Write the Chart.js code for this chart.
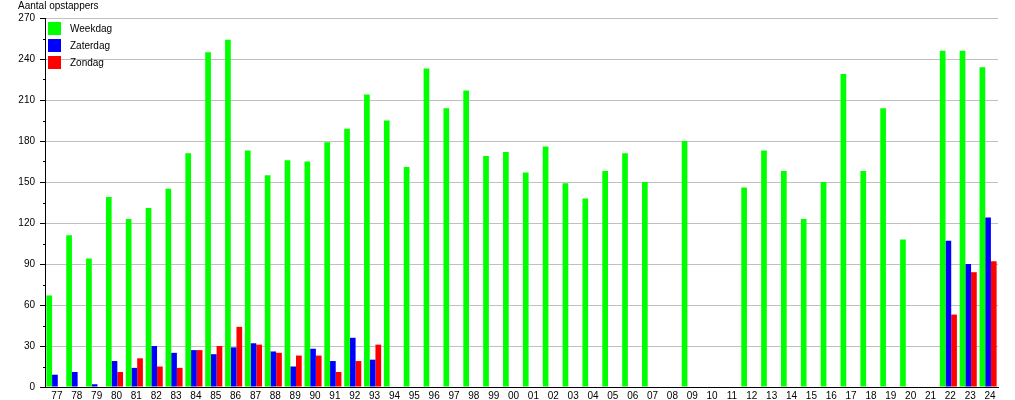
<!DOCTYPE html>
<html>
<head>
<meta charset="utf-8">
<script src="https://cdn.jsdelivr.net/npm/chart.js@4/dist/chart.umd.min.js"></script>
<style>
  html, body { margin: 0; padding: 0; background: #ffffff; }
  #wrap { position: relative; width: 1015px; height: 400px; }
</style>
</head>
<body>
<div id="wrap"><canvas id="c" width="1015" height="400"></canvas></div>
<script>
const categories = ['77','78','79','80','81','82','83','84','85','86','87','88','89','90','91','92','93','94','95','96','97','98','99',
  '00','01','02','03','04','05','06','07','08','09','10','11','12','13','14','15','16','17','18','19','20','21','22','23','24'];

const weekdag = [67,111,94,139,123,131,145,171,245,254,173,155,166,165,179,189,214,195,161,233,204,217,169,
  172,157,176,149,138,158,171,150,null,180,null,null,146,173,158,123,150,229,158,204,108,null,246,246,234];

const zaterdag = [9,11,2,19,14,30,25,27,24,29,32,26,15,28,19,36,20,null,null,null,null,null,null,
  null,null,null,null,null,null,null,null,null,null,null,null,null,null,null,null,null,null,null,null,null,null,107,90,124];

const zondag = [null,null,null,11,21,15,14,27,30,44,31,25,23,23,11,19,31,null,null,null,null,null,null,
  null,null,null,null,null,null,null,null,null,null,null,null,null,null,null,null,null,null,null,null,null,null,53,84,92];

const seriesNames = ['Weekdag','Zaterdag','Zondag'];
const seriesColors = ['#00ff00','#0000ff','#ff0000'];
const yTitle = 'Aantal opstappers';
const yMin = 0, yMax = 270, yStep = 30;

const FONT = '"Liberation Sans", Arial, Helvetica, sans-serif';

const minorTicks = {
  id: 'minorTicks',
  afterDraw(chart) {
    const y = chart.scales.y;
    const ctx = chart.ctx;
    ctx.save();
    ctx.strokeStyle = '#000000';
    ctx.lineWidth = 1;
    for (let v = yMin + yStep / 2; v < yMax; v += yStep) {
      const py = Math.round(y.getPixelForValue(v)) + 0.5;
      ctx.beginPath();
      ctx.moveTo(y.right - 2, py);
      ctx.lineTo(y.right, py);
      ctx.stroke();
    }
    ctx.restore();
  }
};

const insideLegend = {
  id: 'insideLegend',
  afterDraw(chart) {
    const ctx = chart.ctx;
    const area = chart.chartArea;
    ctx.save();
    ctx.font = '10px ' + FONT;
    ctx.textBaseline = 'middle';
    ctx.textAlign = 'left';
    chart.data.datasets.forEach((ds, i) => {
      const bx = area.left + 3;
      const by = area.top + 4 + i * 17;
      ctx.fillStyle = ds.backgroundColor;
      ctx.fillRect(bx, by, 13, 13);
      ctx.fillStyle = '#000000';
      ctx.fillText(ds.label, bx + 22, by + 7);
    });
    ctx.restore();
  }
};

new Chart(document.getElementById('c'), {
  type: 'bar',
  data: {
    labels: categories,
    datasets: [
      { label: seriesNames[0], data: weekdag, backgroundColor: seriesColors[0] },
      { label: seriesNames[1], data: zaterdag, backgroundColor: seriesColors[1] },
      { label: seriesNames[2], data: zondag, backgroundColor: seriesColors[2] }
    ]
  },
  options: {
    responsive: false,
    animation: false,
    events: [],
    layout: { padding: { left: 18, right: 17, top: 0, bottom: 0 } },
    datasets: { bar: { categoryPercentage: 0.86, barPercentage: 1.0, borderWidth: 0 } },
    plugins: {
      legend: { display: false },
      tooltip: { enabled: false },
      title: {
        display: true,
        text: yTitle,
        align: 'start',
        color: '#000000',
        font: { family: FONT, size: 10, weight: 'normal', lineHeight: 1.2 },
        padding: { top: 0, bottom: 6 }
      }
    },
    scales: {
      x: {
        offset: true,
        afterFit(scale) { scale.height = 13; },
        grid: { drawOnChartArea: false, drawTicks: false },
        border: { display: true, color: '#000000', width: 1 },
        ticks: {
          autoSkip: false, maxRotation: 0, minRotation: 0,
          padding: 3, labelOffset: 2,
          color: '#000000',
          font: { family: FONT, size: 10, lineHeight: 1.2 }
        }
      },
      y: {
        min: yMin, max: yMax,
        afterFit(scale) { scale.width = 27; },
        grid: { color: '#c0c0c0', lineWidth: 1, tickColor: '#000000', tickLength: 5 },
        border: { display: true, color: '#000000', width: 1 },
        ticks: {
          stepSize: yStep, padding: 5,
          color: '#000000',
          font: { family: FONT, size: 10, lineHeight: 1.2 }
        }
      }
    }
  },
  plugins: [minorTicks, insideLegend]
});
</script>
</body>
</html>
